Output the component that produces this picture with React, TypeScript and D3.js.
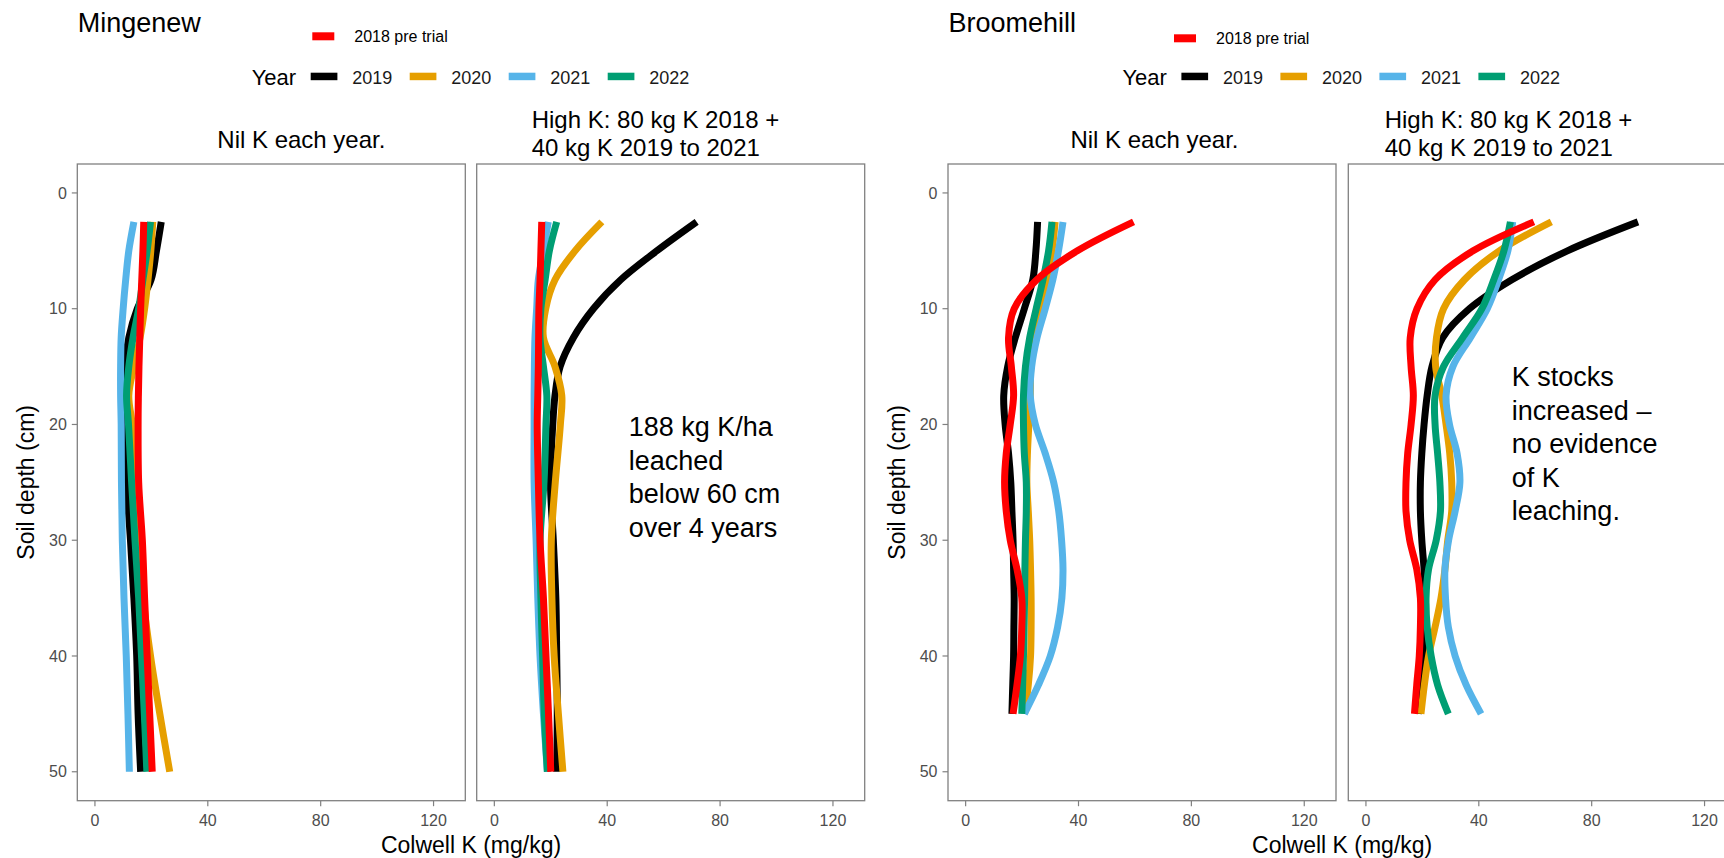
import React, { useEffect } from "react";
import * as d3 from "d3";

// depths (cm)
const mingenewDepth = [2.5, 5, 7.5, 10, 12.5, 15, 17.5, 20, 25, 30, 35, 40, 45, 50];
const broomehillDepth = [2.5, 5, 7.5, 10, 12.5, 15, 17.5, 20, 22.5, 25, 27.5, 30, 32.5, 35, 37.5, 40, 42.5, 45];

// Mingenew, Nil K each year (Colwell K mg/kg)
const mNil2018 = [17.3, 17, 16.6, 16.2, 15.9, 15.6, 15.4, 15.3, 15.5, 16.8, 17.6, 18.5, 19.4, 20.3];
const mNil2019 = [23.5, 21.8, 19.9, 15, 12, 10.5, 10.5, 10.9, 11.2, 12.6, 13.8, 14.8, 15.3, 16.2];
const mNil2020 = [20.5, 19.8, 18.8, 17.6, 16, 13.8, 12, 13.2, 14.4, 15.9, 17.1, 19.7, 23, 26.5];
const mNil2021 = [13.8, 12, 10.9, 10, 9.3, 9.1, 9.1, 9.3, 9.4, 9.7, 10.3, 11.1, 11.7, 12.2];
const mNil2022 = [19.7, 18.5, 17, 15.5, 13.5, 12, 11.2, 11.9, 13, 14.2, 15.5, 16.5, 17.5, 18.4];

// Mingenew, High K
const mHigh2018 = [16.8, 16.5, 16.2, 15.8, 15.7, 15.6, 15.4, 15.2, 15.6, 16.2, 17.4, 18.3, 19.2, 20];
const mHigh2019 = [71.7, 57.6, 44.8, 35.1, 28, 23.3, 21.5, 20.7, 19.9, 20.9, 21.8, 22.1, 22.3, 22.1];
const mHigh2020 = [38.1, 28.6, 21.5, 18.2, 17.4, 21.5, 23.9, 23.4, 21.6, 20.2, 20.4, 21.2, 22.7, 24.3];
const mHigh2021 = [19.1, 17.4, 15.6, 15, 14.4, 14.2, 14.1, 14.1, 14.1, 14.8, 15.4, 16.2, 17.4, 18.8];
const mHigh2022 = [22.1, 19.5, 18, 16.5, 16.2, 17.4, 18.6, 18.3, 17.6, 16.2, 16.5, 17.1, 17.7, 18.8];

// Broomehill, Nil K each year
const bNil2018 = [59.5, 39.6, 25.2, 17.2, 15.2, 16.2, 17, 15.8, 14.4, 13.8, 14.4, 15.8, 18.2, 19.9, 19.9, 19.4, 18.2, 16.8];
const bNil2019 = [25.5, 24.9, 23.8, 20.8, 17.6, 14.9, 13.5, 14, 15.2, 16, 16.4, 16.8, 17, 17.2, 17.1, 17, 16.7, 16.4];
const bNil2020 = [31.7, 30.6, 28.6, 26.4, 24.3, 23.1, 22.9, 22.4, 21.9, 21.7, 22.2, 22.7, 23, 23.2, 23.2, 23, 22.2, 20.9];
const bNil2021 = [34.5, 32.9, 30.9, 28.2, 25.3, 23.4, 22.9, 24.7, 28.2, 31.2, 33, 34, 34.5, 34.1, 32.6, 30, 25.8, 20.8];
const bNil2022 = [30.6, 29.4, 27.4, 25, 22.7, 21.2, 20.5, 20.5, 20.8, 21.5, 21.5, 21.2, 21, 20.9, 20.7, 20.5, 20.2, 19.9];

// Broomehill, High K
const bHigh2018 = [59.5, 38, 24.5, 18.1, 15.7, 16, 16.8, 16, 14.8, 14.2, 14.2, 15.5, 18, 19.3, 19.3, 18.9, 18, 17.2];
const bHigh2019 = [96.4, 71.4, 51.7, 36.7, 27.2, 23.4, 21.7, 20.6, 19.8, 19.3, 19.3, 19.8, 20.6, 21.1, 21.1, 20.7, 19.8, 18.6];
const bHigh2020 = [65.7, 47.3, 34.9, 27.5, 25, 24.7, 26.9, 28.4, 29.7, 30.4, 30.4, 29, 28, 26.6, 24.5, 22.2, 20.7, 19.5];
const bHigh2021 = [52, 50.3, 47, 43, 37, 30.8, 28.4, 29.6, 32.3, 33.3, 31.6, 29.3, 28, 28.2, 29.2, 31.6, 35.5, 40.8];
const bHigh2022 = [51.2, 48.9, 45.3, 41.1, 34.3, 27.5, 24.5, 24.5, 25.4, 26.2, 26.4, 24.9, 22.2, 21.3, 21.7, 23.1, 25.4, 29.2];

const years = ["2019", "2020", "2021", "2022"];
const yearColours = ["#000000", "#E69F00", "#56B4E9", "#009E73"];
const preTrialLabel = "2018 pre trial";
const preTrialColour = "#FF0000";
const xTicks = [0, 40, 80, 120];
const yTicks = [0, 10, 20, 30, 40, 50];
const nilTitle = "Nil K each year.";
const highTitle = ["High K: 80 kg K 2018 +", "40 kg K 2019 to 2021"];
const mingenewNote = ["188 kg K/ha", "leached", "below 60 cm", "over 4 years"];
const broomehillNote = ["K stocks", "increased \u2013", "no evidence", "of K", "leaching."];

const font = "'Liberation Sans', Arial, sans-serif";
const width = 1724,
  height = 858;
const panelTop = 164,
  panelBottom = 800.7,
  panelW = 388;

const y = d3.scaleLinear().domain([-2.5, 52.5]).range([panelTop, panelBottom]);

interface IPanel {
  left: number;
  depths: number[];
  series: number[][]; // 2019..2022 then 2018 last (drawn on top)
  showY: boolean;
  note?: string[];
  noteAt?: [number, number];
}

const Panel: React.FC<IPanel> = ({ left, depths, series, showY, note, noteAt }) => {
  const x = d3.scaleLinear().domain([-6.25, 131.25]).range([left, left + panelW]);
  const colours = [...yearColours, preTrialColour];

  const line = (vals: number[]) =>
    d3
      .line<number>()
      .x((d) => x(d))
      .y((d, i) => y(depths[i]))
      .curve(d3.curveCatmullRom.alpha(0.5))(vals) || "";

  return (
    <g>
      <rect
        x={left}
        y={panelTop}
        width={panelW}
        height={panelBottom - panelTop}
        fill="white"
        stroke="#808080"
        strokeWidth={1.3}
      />
      {series.map((s, i) => (
        <path key={i} d={line(s)} fill="none" stroke={colours[i]} strokeWidth={7} strokeLinejoin="round" />
      ))}
      {xTicks.map((t) => (
        <g key={t}>
          <line x1={x(t)} x2={x(t)} y1={panelBottom} y2={panelBottom + 5.5} stroke="#808080" strokeWidth={1.2} />
          <text x={x(t)} y={826} textAnchor="middle" fontSize={16} fill="#4d4d4d" fontFamily={font}>
            {t}
          </text>
        </g>
      ))}
      {showY &&
        yTicks.map((t) => (
          <g key={t}>
            <line x1={left - 5.5} x2={left} y1={y(t)} y2={y(t)} stroke="#808080" strokeWidth={1.2} />
            <text x={left - 10.5} y={y(t) + 5.7} textAnchor="end" fontSize={16} fill="#4d4d4d" fontFamily={font}>
              {t}
            </text>
          </g>
        ))}
      {note &&
        noteAt &&
        note.map((s, i) => (
          <text key={i} x={x(noteAt[0])} y={y(noteAt[1]) + i * 33.5} fontSize={27} fill="#000" fontFamily={font}>
            {s}
          </text>
        ))}
    </g>
  );
};

interface ISite {
  title: string;
  p1: number;
  p2: number;
  depths: number[];
  nil: number[][];
  high: number[][];
  preKeyX: number;
  preDy: number;
  nilTitleX: number;
  highTitleX: number;
  note: string[];
  noteAt: [number, number];
}

const Site: React.FC<ISite> = (p) => {
  const { p1, p2 } = p;
  return (
    <g fontFamily={font}>
      <text x={p1 + 0.5} y={31.5} fontSize={27} fill="#000">
        {p.title}
      </text>
      {/* legend: pre trial */}
      <rect x={p.preKeyX} y={32.3 + p.preDy} width={22} height={8} fill={preTrialColour} />
      <text x={p.preKeyX + 42} y={41.5 + p.preDy} fontSize={16} fill="#000">
        {preTrialLabel}
      </text>
      {/* legend: year */}
      <text x={p1 + 174.4} y={85} fontSize={22} fill="#000">
        Year
      </text>
      {years.map((yr, i) => {
        const kx = p1 + 233.4 + i * 99;
        return (
          <g key={yr}>
            <rect x={kx} y={72.7} width={26.7} height={7.5} fill={yearColours[i]} />
            <text x={kx + 41.6} y={83.5} fontSize={18} fill="#1a1a1a">
              {yr}
            </text>
          </g>
        );
      })}
      {/* facet titles */}
      <text x={p.nilTitleX} y={147.7} fontSize={24} fill="#000">
        {nilTitle}
      </text>
      {highTitle.map((s, i) => (
        <text key={i} x={p.highTitleX} y={128.3 + i * 27.7} fontSize={24} fill="#000">
          {s}
        </text>
      ))}
      <Panel left={p1} depths={p.depths} series={p.nil} showY={true} />
      <Panel left={p2} depths={p.depths} series={p.high} showY={false} note={p.note} noteAt={p.noteAt} />
      <text x={(p1 + p2 + panelW) / 2} y={852.5} textAnchor="middle" fontSize={23} fill="#000">
        Colwell K (mg/kg)
      </text>
      <text
        transform={`translate(${p1 - 43.3},${(panelTop + panelBottom) / 2}) rotate(-90)`}
        textAnchor="middle"
        fontSize={23}
        fill="#000"
      >
        Soil depth (cm)
      </text>
    </g>
  );
};

const App: React.FC = () => {
  useEffect(() => {
    document.body.style.margin = "0";
  }, []);

  return (
    <svg width={width} height={height} style={{ display: "block", background: "white" }}>
      <rect width={width} height={height} fill="white" />
      <Site
        title="Mingenew"
        p1={77.3}
        p2={476.7}
        depths={mingenewDepth}
        nil={[mNil2019, mNil2020, mNil2021, mNil2022, mNil2018]}
        high={[mHigh2019, mHigh2020, mHigh2021, mHigh2022, mHigh2018]}
        preKeyX={312.3}
        preDy={0}
        nilTitleX={217.3}
        highTitleX={531.7}
        note={mingenewNote}
        noteAt={[47.6, 21]}
      />
      <Site
        title="Broomehill"
        p1={948}
        p2={1348.3}
        depths={broomehillDepth}
        nil={[bNil2019, bNil2020, bNil2021, bNil2022, bNil2018]}
        high={[bHigh2019, bHigh2020, bHigh2021, bHigh2022, bHigh2018]}
        preKeyX={1174}
        preDy={2}
        nilTitleX={1070.4}
        highTitleX={1384.7}
        note={broomehillNote}
        noteAt={[51.7, 16.7]}
      />
    </svg>
  );
};

export default App;
